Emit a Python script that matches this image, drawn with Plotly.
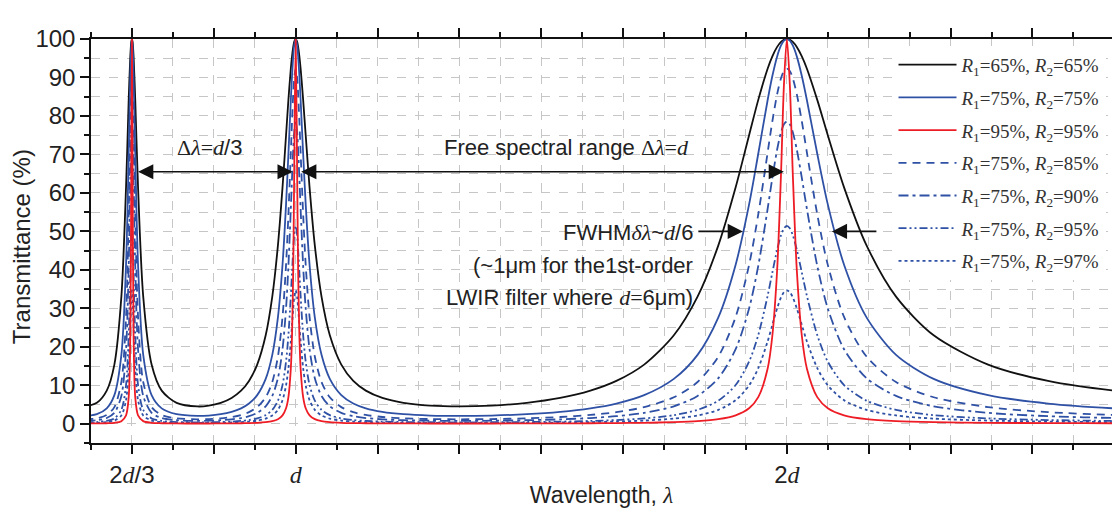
import plotly.graph_objects as go

# Wavelength samples (in units of d)
WAVELENGTH = [
    0.57143, 0.59524, 0.61538, 0.63091, 0.64516, 0.65466, 0.66007, 0.66335, 0.66534, 0.66667,
    0.66800, 0.67002, 0.67340, 0.67912, 0.68966, 0.70671, 0.72727, 0.75758,
    0.8, 0.82305, 0.84746, 0.86957, 0.88889, 0.90498, 0.92166, 0.93897, 0.95238, 0.96386,
    0.97324, 0.98039, 0.98522, 0.99010, 0.99256, 0.99502, 0.99701, 1.0,
    1.00301, 1.00503, 1.00756, 1.01010, 1.01523, 1.02041, 1.02828, 1.03896, 1.05263, 1.06952,
    1.09290, 1.11732, 1.14286, 1.17647, 1.21951, 1.27389,
    1.33333, 1.39860, 1.47059, 1.53846, 1.6, 1.65289, 1.70940, 1.76991, 1.81818, 1.86047,
    1.89573, 1.92308, 1.94175, 1.96078, 1.97044, 1.98020, 1.98807, 1.99402, 2.0,
    2.00602, 2.01207, 2.02020, 2.03046, 2.04082, 2.06186, 2.08333, 2.11640, 2.16216, 2.22222,
    2.29885, 2.40964, 2.53165, 2.66667, 2.85714,
]

T_65_65 = [
    4.5, 5.44, 8.61, 15.38, 33.04, 61.45, 84.18, 95.5, 99.25, 100,
    99.25, 95.5, 84.18, 61.45, 33.04, 15.38, 8.61, 5.44,
    4.5, 4.71, 5.44, 6.72, 8.61, 11.14, 15.38, 23.0, 33.04, 46.37, 61.45, 75.0, 84.18, 92.28, 95.5, 97.95, 99.25, 100,
    99.25, 97.95, 95.5, 92.28, 84.18, 75.0, 61.45, 46.37, 33.04, 23.0, 15.38, 11.14, 8.61, 6.72, 5.44, 4.71,
    4.5, 4.71, 5.44, 6.72, 8.61, 11.14, 15.38, 23.0, 33.04, 46.37, 61.45, 75.0, 84.18, 92.28, 95.5, 97.95, 99.25, 99.81, 100,
    99.81, 99.25, 97.95, 95.5, 92.28, 84.18, 75.0, 61.45, 46.37, 33.04, 23.0, 15.38, 11.14, 8.61, 6.72,
]

T_75_75 = [
    2.04, 2.48, 4.0, 7.44, 17.91, 41.34, 70.17, 90.37, 98.32, 100,
    98.32, 90.37, 70.17, 41.34, 17.91, 7.44, 4.0, 2.48,
    2.04, 2.14, 2.48, 3.09, 4.0, 5.25, 7.44, 11.67, 17.91, 27.66, 41.34, 57.01, 70.17, 84.09, 90.37, 95.48, 98.32, 100,
    98.32, 95.48, 90.37, 84.09, 70.17, 57.01, 41.34, 27.66, 17.91, 11.67, 7.44, 5.25, 4.0, 3.09, 2.48, 2.14,
    2.04, 2.14, 2.48, 3.09, 4.0, 5.25, 7.44, 11.67, 17.91, 27.66, 41.34, 57.01, 70.17, 84.09, 90.37, 95.48, 98.32, 99.58, 100,
    99.58, 98.32, 95.48, 90.37, 84.09, 70.17, 57.01, 41.34, 27.66, 17.91, 11.67, 7.44, 5.25, 4.0, 3.09,
]

T_95_95 = [
    0.07, 0.08, 0.13, 0.25, 0.68, 2.18, 6.92, 22.87, 64.93, 100,
    64.93, 22.87, 6.92, 2.18, 0.68, 0.25, 0.13, 0.08,
    0.07, 0.07, 0.08, 0.1, 0.13, 0.17, 0.25, 0.42, 0.68, 1.19, 2.18, 4.02, 6.92, 14.3, 22.87, 40.01, 64.93, 100,
    64.93, 40.01, 22.87, 14.3, 6.92, 4.02, 2.18, 1.19, 0.68, 0.42, 0.25, 0.17, 0.13, 0.1, 0.08, 0.07,
    0.07, 0.07, 0.08, 0.1, 0.13, 0.17, 0.25, 0.42, 0.68, 1.19, 2.18, 4.02, 6.92, 14.3, 22.87, 40.01, 64.93, 88.1, 100,
    88.1, 64.93, 40.01, 22.87, 14.3, 6.92, 4.02, 2.18, 1.19, 0.68, 0.42, 0.25, 0.17, 0.13, 0.1,
]

T_75_85 = [
    1.16, 1.41, 2.29, 4.32, 10.85, 27.77, 54.42, 78.59, 89.79, 92.3,
    89.79, 78.59, 54.42, 27.77, 10.85, 4.32, 2.29, 1.41,
    1.16, 1.22, 1.41, 1.76, 2.29, 3.02, 4.32, 6.89, 10.85, 17.47, 27.77, 41.3, 54.42, 70.46, 78.59, 85.66, 89.79, 92.3,
    89.79, 85.66, 78.59, 70.46, 54.42, 41.3, 27.77, 17.47, 10.85, 6.89, 4.32, 3.02, 2.29, 1.76, 1.41, 1.22,
    1.16, 1.22, 1.41, 1.76, 2.29, 3.02, 4.32, 6.89, 10.85, 17.47, 27.77, 41.3, 54.42, 70.46, 78.59, 85.66, 89.79, 91.66, 92.3,
    91.66, 89.79, 85.66, 78.59, 70.46, 54.42, 41.3, 27.77, 17.47, 10.85, 6.89, 4.32, 3.02, 2.29, 1.76,
]

T_75_90 = [
    0.75, 0.92, 1.49, 2.83, 7.23, 19.38, 41.03, 63.9, 75.76, 78.54,
    75.76, 63.9, 41.03, 19.38, 7.23, 2.83, 1.49, 0.92,
    0.75, 0.79, 0.92, 1.15, 1.49, 1.97, 2.83, 4.54, 7.23, 11.85, 19.38, 29.96, 41.03, 55.82, 63.9, 71.28, 75.76, 78.54,
    75.76, 71.28, 63.9, 55.82, 41.03, 29.96, 19.38, 11.85, 7.23, 4.54, 2.83, 1.97, 1.49, 1.15, 0.92, 0.79,
    0.75, 0.79, 0.92, 1.15, 1.49, 1.97, 2.83, 4.54, 7.23, 11.85, 19.38, 29.96, 41.03, 55.82, 63.9, 71.28, 75.76, 77.83, 78.54,
    77.83, 75.76, 71.28, 63.9, 55.82, 41.03, 29.96, 19.38, 11.85, 7.23, 4.54, 2.83, 1.97, 1.49, 1.15,
]

T_75_95 = [
    0.37, 0.45, 0.73, 1.39, 3.61, 10.07, 23.06, 39.31, 49.01, 51.43,
    49.01, 39.31, 23.06, 10.07, 3.61, 1.39, 0.73, 0.45,
    0.37, 0.39, 0.45, 0.56, 0.73, 0.97, 1.39, 2.24, 3.61, 6.0, 10.07, 16.16, 23.06, 33.23, 39.31, 45.23, 49.01, 51.43,
    49.01, 45.23, 39.31, 33.23, 23.06, 16.16, 10.07, 6.0, 3.61, 2.24, 1.39, 0.97, 0.73, 0.56, 0.45, 0.39,
    0.37, 0.39, 0.45, 0.56, 0.73, 0.97, 1.39, 2.24, 3.61, 6.0, 10.07, 16.16, 23.06, 33.23, 39.31, 45.23, 49.01, 50.8, 51.43,
    50.8, 49.01, 45.23, 39.31, 33.23, 23.06, 16.16, 10.07, 6.0, 3.61, 2.24, 1.39, 0.97, 0.73, 0.56,
]

T_75_97 = [
    0.22, 0.27, 0.43, 0.83, 2.16, 6.12, 14.47, 25.69, 32.84, 34.68,
    32.84, 25.69, 14.47, 6.12, 2.16, 0.83, 0.43, 0.27,
    0.22, 0.23, 0.27, 0.33, 0.43, 0.58, 0.83, 1.34, 2.16, 3.61, 6.12, 9.97, 14.47, 21.38, 25.69, 30.01, 32.84, 34.68,
    32.84, 30.01, 25.69, 21.38, 14.47, 9.97, 6.12, 3.61, 2.16, 1.34, 0.83, 0.58, 0.43, 0.33, 0.27, 0.23,
    0.22, 0.23, 0.27, 0.33, 0.43, 0.58, 0.83, 1.34, 2.16, 3.61, 6.12, 9.97, 14.47, 21.38, 25.69, 30.01, 32.84, 34.2, 34.68,
    34.2, 32.84, 30.01, 25.69, 21.38, 14.47, 9.97, 6.12, 3.61, 2.16, 1.34, 0.83, 0.58, 0.43, 0.33,
]

R1_VALUES = ["65", "75", "95", "75", "75", "75", "75"]
R2_VALUES = ["65", "75", "95", "85", "90", "95", "97"]

X_TICK_VALS = [4/6, 5/6, 1.0, 7/6, 8/6, 9/6, 10/6, 11/6, 2.0, 13/6, 14/6, 15/6]
SERIF = "Liberation Serif"
SANS = "Liberation Sans"


def serif(t):
    return f"<span style='font-family:{SERIF}'>{t}</span>"


X_TICK_TEXT = ["2" + serif("<i>d</i>") + "/3", "", serif("<i>d</i>"), "", "", "", "", "",
               "2" + serif("<i>d</i>"), "", "", ""]

BLACK = "#111111"
BLUE = "#2f51a5"
RED = "#ee1c25"

series = [
    (T_65_65, BLACK, "solid", 1),
    (T_75_75, BLUE, "solid", 2),
    (T_75_85, BLUE, "8px,6px", 4),
    (T_75_90, BLUE, "10px,4px,3px,4px", 5),
    (T_75_95, BLUE, "8px,3px,2px,3px,2px,3px", 6),
    (T_75_97, BLUE, "3px,3px", 7),
    (T_95_95, RED, "solid", 3),
]

fig = go.Figure()
for vals, color, dash, rank in series:
    i = rank - 1
    name = (f"<i>R</i><sub>1</sub>={R1_VALUES[i]}%, "
            f"<i>R</i><sub>2</sub>={R2_VALUES[i]}%")
    fig.add_trace(go.Scatter(
        x=WAVELENGTH, y=vals, mode="lines", name=name,
        line=dict(color=color, width=1.8, dash=dash, shape="spline", smoothing=0.8),
        legendrank=rank, legendgroup=f"g{rank}",
    ))

TXT = "#222222"
annotations = []
for xv, lab in [(2/3, "m=3"), (1.0, "m=2"), (2.0, "m=1")]:
    annotations.append(dict(x=xv, y=106.3, xref="x", yref="y", text=lab, showarrow=False,
                            font=dict(family=SANS, size=22, color=TXT)))

annotations.append(dict(x=0.8248, y=71.8, xref="x", yref="y",
                        text=serif("Δ<i>λ</i>=<i>d</i>") + "/3", showarrow=False,
                        font=dict(family=SANS, size=22, color=TXT)))
annotations.append(dict(x=1.552, y=71.8, xref="x", yref="y",
                        text="Free spectral range " + serif("Δ<i>λ</i>=<i>d</i>"), showarrow=False,
                        font=dict(family=SANS, size=22, color=TXT)))

arrow_style = dict(xref="x", yref="y", axref="x", ayref="y", text="", showarrow=True,
                   arrowhead=2, arrowsize=1.9, arrowwidth=1.6, arrowcolor="#111111",
                   startarrowhead=2, startarrowsize=1.9)
annotations.append(dict(x=0.9939, y=65.5, ax=0.6762, ay=65.5, arrowside="end+start", **arrow_style))
annotations.append(dict(x=1.9939, y=65.5, ax=1.0081, ay=65.5, arrowside="end+start", **arrow_style))
annotations.append(dict(x=1.9104, y=50, ax=1.8167, ay=50, arrowside="end", **arrow_style))
annotations.append(dict(x=2.0916, y=50, ax=2.1853, ay=50, arrowside="end", **arrow_style))

fwhm_lines = [
    (49.7, "FWHM" + serif("<i>δλ</i>") + "~" + serif("<i>d</i>") + "/6"),
    (41.1, "(~1μm for the1st-order"),
    (32.8, "LWIR filter where " + serif("<i>d</i>=") + "6μm)"),
]
for yv, t in fwhm_lines:
    annotations.append(dict(x=1.812, y=yv, xref="x", yref="y", text=t, showarrow=False,
                            xanchor="right", font=dict(family=SANS, size=22, color=TXT)))

# y-axis title placed as rotated annotation
annotations.append(dict(x=-0.0686, y=0.487, xref="paper", yref="paper", text="Transmittance (%)",
                        textangle=-90, showarrow=False, xanchor="center", yanchor="middle",
                        font=dict(family=SANS, size=24, color=TXT)))

GRID = "#c6c6c6"
fig.update_layout(
    width=1112, height=511,
    margin=dict(l=91, r=0, t=39, b=68),
    paper_bgcolor="white", plot_bgcolor="white",
    font=dict(family=SANS, color=TXT),
    showlegend=True,
    legend=dict(x=0.786, y=0.983, xanchor="left", yanchor="top",
                bgcolor="white", font=dict(family=SERIF, size=19, color="#333333"),
                tracegroupgap=5, itemwidth=58),
    annotations=annotations,
    xaxis=dict(
        range=[0.58333, 2.6619],
        tickmode="array", tickvals=X_TICK_VALS, ticktext=X_TICK_TEXT,
        ticks="outside", ticklen=9, tickwidth=1.5, tickcolor="#111111",
        showline=True, linecolor="#111111", linewidth=1.5, mirror="ticks",
        showgrid=True, gridcolor=GRID, griddash="dash", gridwidth=1,
        zeroline=False,
        tickfont=dict(family=SANS, size=24, color=TXT),
        minor=dict(dtick=1/12, tick0=0, ticks="outside", ticklen=5, tickwidth=1.5,
                   tickcolor="#111111", showgrid=True, gridcolor=GRID, griddash="dash"),
        title=dict(text="Wavelength, " + serif("<i>λ</i>"), standoff=0,
                   font=dict(family=SANS, size=23, color=TXT)),
    ),
    yaxis=dict(
        range=[-5, 100], tick0=0, dtick=10,
        ticks="outside", ticklen=9, tickwidth=1.5, tickcolor="#111111",
        showline=True, linecolor="#111111", linewidth=1.5, mirror=False,
        showgrid=True, gridcolor=GRID, griddash="dash", gridwidth=1,
        zeroline=False,
        tickfont=dict(family=SANS, size=24, color=TXT),
        minor=dict(dtick=5, tick0=0, ticks="outside", ticklen=5, tickwidth=1.5,
                   tickcolor="#111111", showgrid=True, gridcolor=GRID, griddash="dash"),
    ),
)

fig.write_html("out.html", config={"displayModeBar": False},
               post_script="document.body.style.margin='0';")
